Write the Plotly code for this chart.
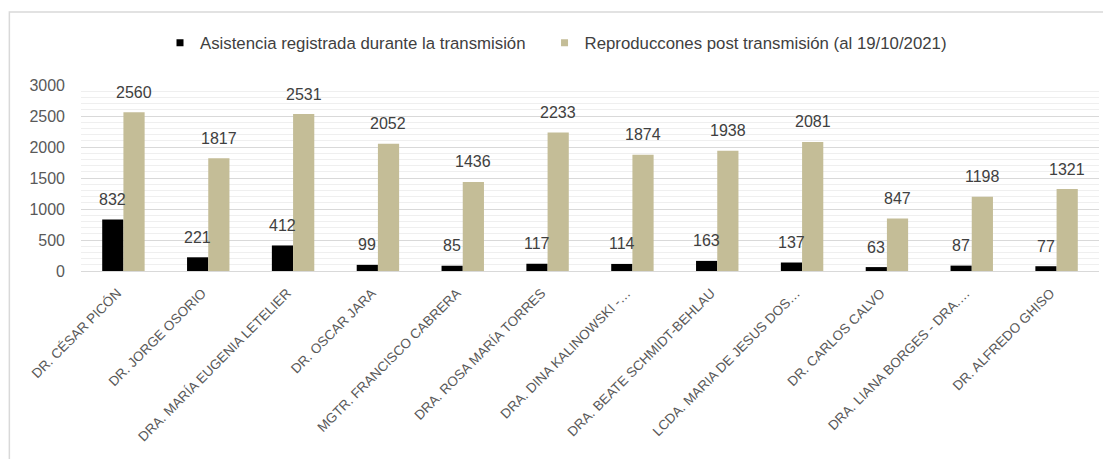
import plotly.graph_objects as go

categories = [
    "DR. CÉSAR PICÓN",
    "DR. JORGE OSORIO",
    "DRA. MARÍA EUGENIA LETELIER",
    "DR. OSCAR JARA",
    "MGTR. FRANCISCO CABRERA",
    "DRA. ROSA MARÍA TORRES",
    "DRA. DINA KALINOWSKI -…",
    "DRA. BEATE SCHMIDT-BEHLAU",
    "LCDA. MARIA DE JESUS DOS…",
    "DR. CARLOS CALVO",
    "DRA. LIANA BORGES - DRA.…",
    "DR. ALFREDO GHISO",
]
asistencia = [832, 221, 412, 99, 85, 117, 114, 163, 137, 63, 87, 77]
reproducciones = [2560, 1817, 2531, 2052, 1436, 2233, 1874, 1938, 2081, 847, 1198, 1321]
series_names = ["Asistencia registrada durante la transmisión",
                "Reproduccones post transmisión (al 19/10/2021)"]
y_ticks = [0, 500, 1000, 1500, 2000, 2500, 3000]

FONT = "Liberation Sans, Arial, sans-serif"
BLACK = "#000000"
TAN = "#c4bd97"
colors = [BLACK, TAN]

# page body has an 8px margin; figure is sized to the remaining window
W, H = 1103, 451
ML, MR, MT, MB = 72.5, 11.5, 77, 188.3
PW, PH = W - ML - MR, H - MT - MB

fig = go.Figure()
fig.add_trace(go.Bar(name=series_names[0], x=categories, y=asistencia, showlegend=False,
                     marker=dict(color=BLACK, line=dict(width=0))))
fig.add_trace(go.Bar(name=series_names[1], x=categories, y=reproducciones, showlegend=False,
                     marker=dict(color=TAN, line=dict(width=0))))
# legend entries with small square keys
legend_pad = ["\u00a0\u00a0\u00a0", ""]
for name, col, pad in zip(series_names, colors, legend_pad):
    fig.add_trace(go.Scatter(name=name + pad, x=[None], y=[None], mode="markers",
                             marker=dict(symbol="square", size=7, color=col), showlegend=True))

# data labels
for i, c in enumerate(categories):
    fig.add_annotation(x=c, y=asistencia[i], xref="x", yref="y", text=str(asistencia[i]),
                       showarrow=False, xshift=-10.5, yshift=20,
                       font=dict(family=FONT, size=16, color="#404040"))
    fig.add_annotation(x=c, y=reproducciones[i], xref="x", yref="y", text=str(reproducciones[i]),
                       showarrow=False, xshift=10.5, yshift=20,
                       font=dict(family=FONT, size=16, color="#404040"))

# outer chart border
fig.add_shape(type="rect", xref="paper", yref="paper",
              x0=(0.8 - ML) / PW, x1=(W + 20 - ML) / PW,
              y0=-(MB + 20) / PH, y1=1 + (MT - 4) / PH,
              line=dict(color="#d9d9d9", width=1.5), layer="below")

fig.update_layout(
    width=W, height=H,
    margin=dict(l=ML, r=MR, t=MT, b=MB, autoexpand=False),
    paper_bgcolor="white", plot_bgcolor="white",
    barmode="group", bargap=0.5, bargroupgap=0,
    font=dict(family=FONT, color="#595959"),
    showlegend=True,
    legend=dict(orientation="h", xref="container", x=152 / W, xanchor="left",
                y=1 + (MT - 35) / PH, yanchor="middle",
                font=dict(family=FONT, size=16.8, color="#404040"),
                itemwidth=30, traceorder="normal", bgcolor="rgba(0,0,0,0)"),
    xaxis=dict(tickangle=-45, tickfont=dict(family=FONT, size=13.5, color="#595959"),
               showline=True, linecolor="#d9d9d9", linewidth=1, ticks="", showgrid=False,
               ticklabelstandoff=8, ticklabelshift=-6),
    yaxis=dict(range=[0, 3000], tickvals=y_ticks, tickfont=dict(family=FONT, size=16, color="#595959"),
               showgrid=True, gridcolor="#d9d9d9", gridwidth=1, zeroline=False,
               showline=False, ticks="", ticklabelstandoff=15,
               minor=dict(dtick=100, showgrid=True, gridcolor="#efefef", gridwidth=1)),
)

fig.write_html("out.html")
